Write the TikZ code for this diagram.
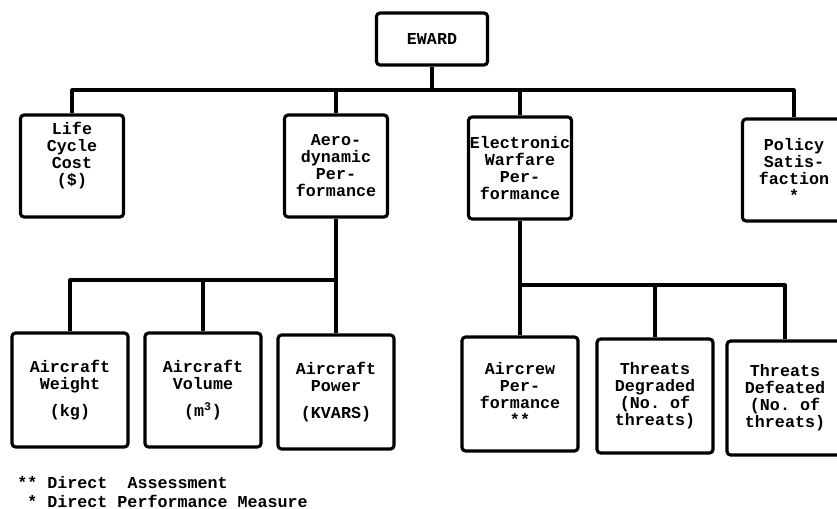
\documentclass[tikz,border=0pt]{standalone}
\usepackage{fontspec}
\setmonofont{Liberation Mono}
\begin{document}
\begin{tikzpicture}[
    x=0.02cm, y=-0.02cm,
    every node/.style={font=\fontsize{9.5}{9.7}\selectfont\ttfamily\bfseries},
    box/.style={rectangle, rounded corners=2pt, draw, line width=1.8pt, align=center, inner sep=0pt},
    top/.style={box, minimum width=2.22cm, minimum height=1.04cm},
    level1/.style={box, minimum width=2.06cm, minimum height=2.04cm},
    level2/.style={box, minimum width=2.32cm, minimum height=2.28cm},
    link/.style={draw, line width=1.8pt, line join=round},
    legend/.style={anchor=west, inner sep=0pt}
]
\useasboundingbox (0,0) rectangle (837,508);

% Top node
\node[top] (eward) at (432,39) {EWARD};

% Level 1: criteria
\node[level1] (life) at (72,166) {Life\\Cycle\\Cost\\(\$)\\[4pt]};
\node[level1] (aero) at (336,166) {Aero-\\dynamic\\Per-\\formance};
\node[level1] (ew) at (520,168) {Electronic\\Warfare\\Per-\\formance};
\node[level1] (policy) at (794,170) {Policy\\Satis-\\faction\\*};

% Level 2: aerodynamic measures
\node[level2] (weight) at (70,390) {Aircraft\\Weight\\[6pt](kg)};
\node[level2] (volume) at (203,390) {Aircraft\\Volume\\[6pt](m\textsuperscript{3})};
\node[level2] (power) at (336,392) {Aircraft\\Power\\[6pt](KVARS)};

% Level 2: electronic warfare measures
\node[level2] (aircrew) at (520,394) {Aircrew\\Per-\\formance\\**};
\node[level2] (degraded) at (655,396) {Threats\\Degraded\\(No. of\\threats)};
\node[level2] (defeated) at (785,398) {Threats\\Defeated\\(No. of\\threats)};

% Bus heights
\coordinate (topbus) at (0,90);
\coordinate (aerobus) at (0,280);
\coordinate (ewbus) at (0,285);

% Edges from top
\draw[link] (eward.south) -- (eward.south |- topbus);
\draw[link] (life.north) |- (policy.north |- topbus) -- (policy.north);
\draw[link] (aero.north) -- (aero.north |- topbus);
\draw[link] (ew.north) -- (ew.north |- topbus);

% Edges from aerodynamic performance
\draw[link] (aero.south) -- (power.north);
\draw[link] (weight.north) |- (power.north |- aerobus);
\draw[link] (volume.north) -- (volume.north |- aerobus);

% Edges from electronic warfare performance
\draw[link] (ew.south) -- (aircrew.north);
\draw[link] (aircrew.north |- ewbus) -| (defeated.north);
\draw[link] (degraded.north) -- (degraded.north |- ewbus);

% Legend
\node[legend] (legendA) at (17,483) {** Direct~ Assessment};
\node[legend] (legendB) at (27,501) {* Direct Performance Measure};

\end{tikzpicture}
\end{document}
